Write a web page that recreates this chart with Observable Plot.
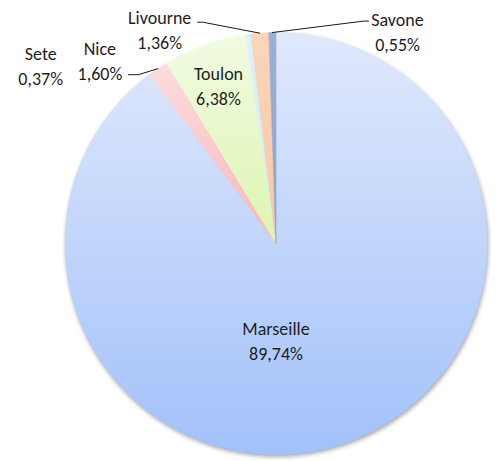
<!DOCTYPE html>
<html>
<head>
<meta charset="utf-8">
<script src="https://cdn.jsdelivr.net/npm/d3@7"></script>
<script src="https://cdn.jsdelivr.net/npm/@observablehq/plot@0.6"></script>
<style>
  html, body { margin: 0; padding: 0; background: #fff; }
  #chart svg { display: block; }
</style>
</head>
<body>
<div id="chart"></div>
<script>
// ---- data ----
const cities = ["Marseille", "Nice", "Toulon", "Sete", "Livourne", "Savone"];
const shares = [89.74, 1.60, 6.38, 0.37, 1.36, 0.55];
const shareLabels = ["89,74%", "1,60%", "6,38%", "0,37%", "1,36%", "0,55%"];

// ---- styles (base colour, gradient top / bottom per slice) ----
const baseColor = ["#c8d9fb", "#f9c9ca", "#e6f8c8", "#d4effa", "#fad0af", "#92aad3"];
const gradTop = ["#e0e9fc", "#fcdcdd", "#f1fbe2", "#dbf3fb", "#fbd6ba", "#9bb0d6"];
const gradBottom = ["#a2c1fa", "#f7b7b9", "#dcf5b0", "#cdecf8", "#f9c6a1", "#8aa3cf"];

// ---- label layout (angle in degrees clockwise from 12 o'clock, radius as fraction of pie radius) ----
const labelAngle = [180, 316.3, 340.1, 307.2, 331.6, 29.65];
const labelRadius = [0.455, 1.208, 0.801, 1.40, 1.159, 1.164];
// leader lines: [elbow, end] in pie-radius units, for labels placed outside
const leaders = {
  "Nice": [[-0.652, 0.800], [-0.699, 0.800]],
  "Livourne": [[-0.348, 1.049], [-0.372, 1.049]],
  "Savone": [[0.415, 1.054], [0.438, 1.054]]
};

const data = cities.map((c, i) => ({city: c, share: shares[i], label: shareLabels[i], i}));
const arcs = d3.pie().sort(null).value(d => d.share)(data);

// slice polygons in unit coordinates (x = sin a, y = cos a)
function slicePolygon(a) {
  const pts = [{x: 0, y: 0}];
  const n = Math.max(2, Math.ceil((a.endAngle - a.startAngle) / (Math.PI / 360)));
  for (let k = 0; k <= n; k++) {
    const t = a.startAngle + (a.endAngle - a.startAngle) * k / n;
    pts.push({x: Math.sin(t), y: Math.cos(t)});
  }
  pts.push({x: 0, y: 0});
  return pts;
}

const labels = data.map((d, i) => {
  const t = labelAngle[i] * Math.PI / 180;
  return {text: `${d.city}\n${d.label}`, x: labelRadius[i] * Math.sin(t), y: labelRadius[i] * Math.cos(t)};
});

const leaderPts = [];
arcs.forEach(a => {
  const L = leaders[a.data.city];
  if (!L) return;
  const m = (a.startAngle + a.endAngle) / 2;
  leaderPts.push({city: a.data.city, x: Math.sin(m), y: Math.cos(m)});
  L.forEach(p => leaderPts.push({city: a.data.city, x: p[0], y: p[1]}));
});

const sliceMarks = arcs.map(a => Plot.line(slicePolygon(a), {
  x: "x", y: "y",
  fill: baseColor[a.data.i], stroke: baseColor[a.data.i], strokeWidth: 0.6,
  ariaDescription: `slice-${a.data.i}`
}));

const chart = Plot.plot({
  width: 496,
  height: 461,
  marginLeft: 64.5,
  marginRight: 9.5,
  marginTop: 32,
  marginBottom: 7,
  x: {domain: [-1, 1], axis: null},
  y: {domain: [-1, 1], axis: null},
  style: {fontFamily: "Carlito, Calibri, Lato, sans-serif", background: "#fff"},
  marks: [
    ...sliceMarks,
    Plot.line(leaderPts, {x: "x", y: "y", z: "city", stroke: "#1a1a1a", strokeWidth: 1}),
    Plot.text(labels, {x: "x", y: "y", text: "text", fill: "#1e1e1e", fontSize: 18, lineHeight: 1.39, lineAnchor: "middle", textAnchor: "middle"})
  ]
});

// gradient definitions + soft shadow
const svg = d3.select(chart);
const defs = svg.insert("defs", ":first-child");
cities.forEach((c, i) => {
  const g = defs.append("linearGradient").attr("id", `pg${i}`).attr("x1", 0).attr("y1", 0).attr("x2", 0).attr("y2", 1);
  g.append("stop").attr("offset", "0%").attr("stop-color", gradTop[i]);
  g.append("stop").attr("offset", "100%").attr("stop-color", gradBottom[i]);
});
cities.forEach((c, i) => {
  const grp = svg.select(`g[aria-description="slice-${i}"]`);
  grp.attr("fill", `url(#pg${i})`).attr("stroke", `url(#pg${i})`);
  grp.selectAll("path").attr("fill", `url(#pg${i})`).attr("stroke", `url(#pg${i})`);
});
svg.select('g[aria-description="slice-0"]').style("filter", "drop-shadow(1.5px 2px 2px rgba(0,0,0,0.35))");

document.getElementById("chart").appendChild(chart);
</script>
</body>
</html>
